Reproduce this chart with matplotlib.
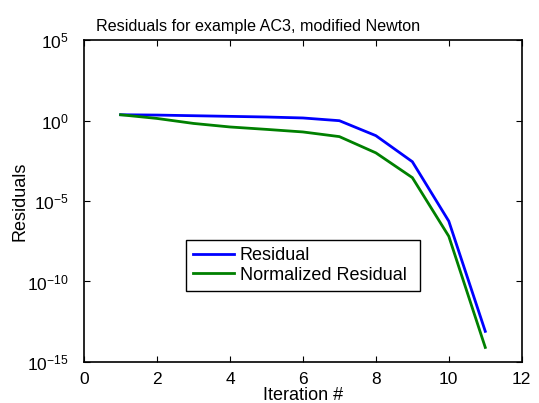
import matplotlib
matplotlib.use("Agg")
import matplotlib.pyplot as plt
from matplotlib.ticker import NullLocator
import numpy as np

plt.rcParams["font.family"] = ["Liberation Sans", "DejaVu Sans"]

iters = [1, 2, 3, 4, 5, 6, 7, 8, 9, 10, 11]
log_residual = [0.37, 0.35, 0.31, 0.27, 0.23, 0.17, 0.0, -0.93, -2.55, -6.25, -13.1]
log_norm_residual = [0.37, 0.14, -0.17, -0.39, -0.54, -0.70, -0.99, -2.0, -3.54, -7.19, -14.1]

residual = 10.0 ** np.array(log_residual)
norm_residual = 10.0 ** np.array(log_norm_residual)

fig = plt.figure(figsize=(5.39, 4.03), dpi=100)
ax = fig.add_axes([0.156, 0.102, 0.812, 0.798])

ax.semilogy(iters, residual, color="#0000ff", lw=2, label="Residual")
ax.semilogy(iters, norm_residual, color="#008000", lw=2, label="Normalized Residual")

ax.set_xlim(0, 12)
ax.set_ylim(1e-15, 1e5)
ax.set_xticks(range(0, 13, 2))
ax.set_yticks([1e-15, 1e-10, 1e-5, 1e0, 1e5])
ax.yaxis.set_minor_locator(NullLocator())
ax.tick_params(direction="in", top=True, right=True, labelsize=12.5, length=4)
ax.tick_params(axis="x", pad=7)
ax.tick_params(axis="y", pad=11)
for s in ax.spines.values():
    s.set_linewidth(1.2)

ax.set_xlabel("Iteration #", fontsize=13, labelpad=0)
ax.set_ylabel("Residuals", fontsize=13)
ax.yaxis.set_label_coords(-0.128, 0.5)
fig.text(258 / 539, 1 - 26 / 403, "Residuals for example AC3, modified Newton",
         fontsize=11.6, ha="center", va="center")

leg = ax.legend(loc="lower left", bbox_to_anchor=(0.232, 0.2205, 0.535, 0.153),
                mode="expand", fontsize=13, fancybox=False, framealpha=1,
                edgecolor="black", borderpad=0.4, handlelength=2.3,
                handletextpad=0.3, labelspacing=0.15, borderaxespad=0)
leg.get_frame().set_linewidth(1.0)

fig.savefig("out.png", dpi=100)
